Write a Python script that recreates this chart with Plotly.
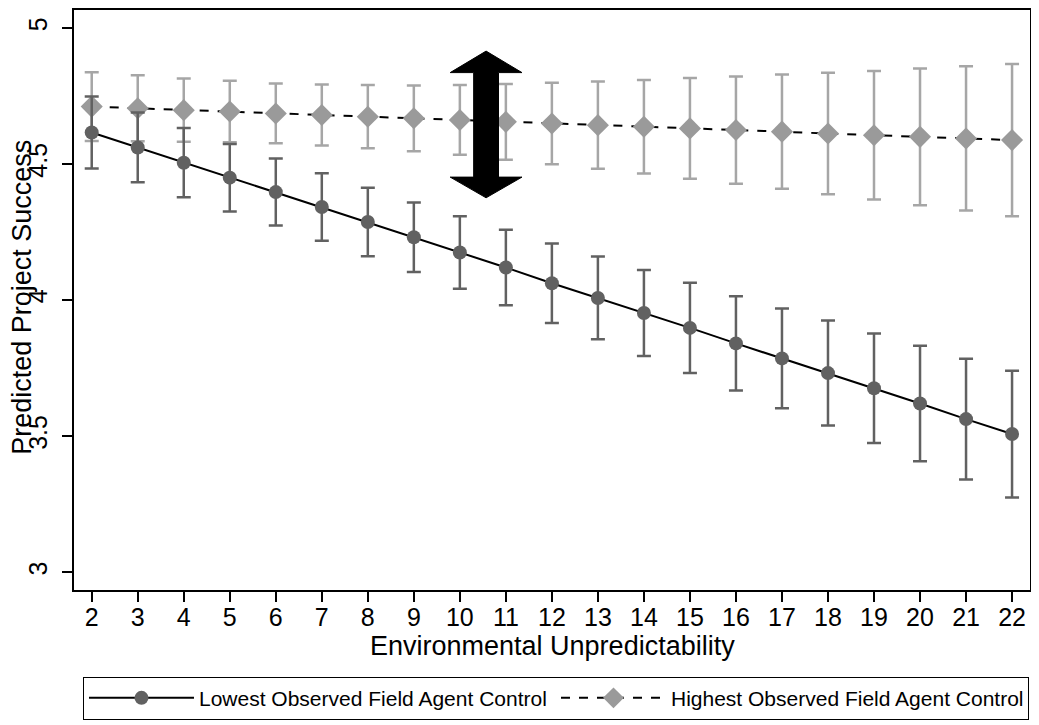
import plotly.graph_objects as go

# ---- data ----
unpredictability = [2, 3, 4, 5, 6, 7, 8, 9, 10, 11, 12, 13, 14, 15, 16, 17, 18, 19, 20, 21, 22]

lowest_mean = [4.616, 4.561, 4.505, 4.450, 4.397, 4.342, 4.287, 4.231, 4.175, 4.120, 4.062,
               4.008, 3.953, 3.898, 3.841, 3.786, 3.732, 3.676, 3.620, 3.563, 3.508]
lowest_ci = [0.132, 0.128, 0.127, 0.124, 0.123, 0.124, 0.126, 0.128, 0.133, 0.139, 0.146,
             0.152, 0.158, 0.166, 0.173, 0.183, 0.193, 0.201, 0.212, 0.222, 0.233]

highest_mean = [4.711, 4.705, 4.698, 4.693, 4.686, 4.680, 4.674, 4.668, 4.662, 4.655, 4.649,
                4.643, 4.637, 4.631, 4.625, 4.619, 4.612, 4.606, 4.600, 4.594, 4.588]
highest_ci = [0.126, 0.121, 0.116, 0.113, 0.110, 0.112, 0.116, 0.121, 0.128, 0.139, 0.150,
              0.160, 0.172, 0.185, 0.197, 0.210, 0.223, 0.236, 0.251, 0.265, 0.280]

x_ticks = list(range(2, 23))
y_ticks = [3, 3.5, 4, 4.5, 5]
y_tick_labels = ["3", "3.5", "4", "4.5", "5"]

# double arrow annotation (data coords)
arrow_x = 10.57
arrow_shaft_half = 0.27
arrow_head_half = 0.78
arrow_top_tip, arrow_top_base = 4.915, 4.836
arrow_bot_base, arrow_bot_tip = 4.452, 4.376

FONT = "Liberation Sans, Arial, Helvetica, sans-serif"

fig = go.Figure()

fig.add_trace(go.Scatter(
    x=unpredictability, y=highest_mean, mode="lines+markers",
    name="Highest Observed Field Agent Control", legendrank=2,
    line=dict(color="black", width=2, dash="dash"),
    marker=dict(symbol="diamond", size=17, color="#9a9a9a"),
    error_y=dict(type="data", array=highest_ci, color="#a6a6a6", thickness=2.5, width=7),
))
fig.add_trace(go.Scatter(
    x=unpredictability, y=lowest_mean, mode="lines+markers",
    name="Lowest Observed Field Agent Control", legendrank=1,
    line=dict(color="black", width=2),
    marker=dict(symbol="circle", size=14, color="#616161"),
    error_y=dict(type="data", array=lowest_ci, color="#616161", thickness=2.5, width=7),
))

ax, hs, hh = arrow_x, arrow_shaft_half, arrow_head_half
path = (f"M{ax-hs},{arrow_top_base} L{ax-hh},{arrow_top_base} L{ax},{arrow_top_tip} "
        f"L{ax+hh},{arrow_top_base} L{ax+hs},{arrow_top_base} L{ax+hs},{arrow_bot_base} "
        f"L{ax+hh},{arrow_bot_base} L{ax},{arrow_bot_tip} L{ax-hh},{arrow_bot_base} "
        f"L{ax-hs},{arrow_bot_base} Z")
fig.add_shape(type="path", path=path, xref="x", yref="y",
              fillcolor="black", line=dict(color="black", width=1), layer="above")

fig.add_annotation(text="Predicted Project Success", xref="paper", yref="paper",
                   x=-0.0547, y=0.505, xanchor="center", yanchor="middle", textangle=-90,
                   showarrow=False, font=dict(family=FONT, size=27, color="black"))
fig.add_annotation(text="Environmental Unpredictability", xref="paper", yref="paper",
                   x=0.5, y=-0.0962, xanchor="center", yanchor="middle",
                   showarrow=False, font=dict(family=FONT, size=27, color="black"))

fig.update_layout(
    width=1031, height=717,
    margin=dict(l=66, r=9, t=0, b=135),
    paper_bgcolor="white", plot_bgcolor="white",
    font=dict(family=FONT, size=25, color="black"),
    showlegend=True,
    legend=dict(orientation="h", x=0.0094, y=-0.1495,
                xanchor="left", yanchor="top",
                bordercolor="black", borderwidth=1, font=dict(family=FONT, size=21),
                itemwidth=105, entrywidth=352, entrywidthmode="pixels",
                traceorder="normal"),
)
fig.update_xaxes(range=[1.615, 22.39], tickmode="array", tickvals=x_ticks,
                 ticks="outside", ticklen=10, tickwidth=1.5, tickcolor="black",
                 ticklabelstandoff=-6,
                 showline=True, linecolor="black", linewidth=2, mirror=True,
                 showgrid=False, zeroline=False, tickfont=dict(size=25))
fig.update_yaxes(range=[2.935, 5.066], tickmode="array", tickvals=y_ticks,
                 ticktext=y_tick_labels, tickangle=-90, ticklabelstandoff=5,
                 ticks="outside", ticklen=10, tickwidth=1.5, tickcolor="black",
                 showline=True, linecolor="black", linewidth=2, mirror=True,
                 showgrid=False, zeroline=False, tickfont=dict(size=25))

fig.write_html("out.html")
